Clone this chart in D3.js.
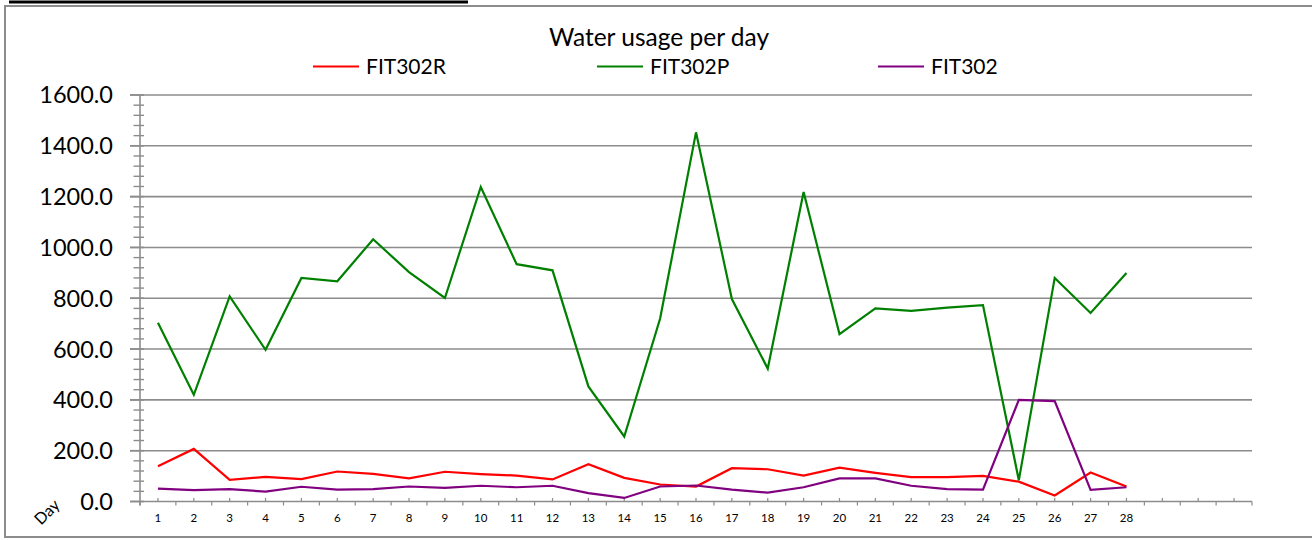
<!DOCTYPE html>
<html>
<head>
<meta charset="utf-8">
<script src="https://cdn.jsdelivr.net/npm/d3@7/dist/d3.min.js"></script>
<style>
  html, body { margin: 0; padding: 0; background: #ffffff; }
  svg { display: block; font-family: Lato, "Open Sans", sans-serif; }
</style>
</head>
<body>
<svg id="chart" width="1312" height="540"></svg>
<script>
// ---- data ----
const categories = ["1","2","3","4","5","6","7","8","9","10","11","12","13","14","15","16","17","18","19","20","21","22","23","24","25","26","27","28","29","30","31"];
const labelCount = 28;
const FIT302R = [139,207,85,97,88,118,109,91,117,108,102,87,147,93,67,59,131,127,102,133,113,96,96,101,78,24,114,59];
const FIT302P = [704,420,807,597,880,867,1032,903,801,1238,934,910,453,256,720,1453,797,523,1218,659,760,750,763,773,84,880,742,899];
const FIT302  = [51,45,49,39,58,47,49,59,54,62,56,62,33,14,59,63,47,35,56,91,91,62,49,47,400,395,46,56];
const seriesNames = ["FIT302R","FIT302P","FIT302"];
const seriesColors = ["#ff0000","#008000","#800080"];
const yTicks = [0,200,400,600,800,1000,1200,1400,1600];
const titleText = "Water usage per day";
const xAxisTitle = "Day";

const series = [FIT302R, FIT302P, FIT302];

const svg = d3.select("#chart");
const gridColor = "#8c8c8c";

// outer frame
svg.append("line").attr("x1",9).attr("x2",468).attr("y1",2).attr("y2",2)
  .attr("stroke","#000").attr("stroke-width",3);
svg.append("rect").attr("x",5).attr("y",6).attr("width",1320).attr("height",531)
  .attr("fill","none").attr("stroke",gridColor).attr("stroke-width",2);

const x = d3.scaleBand().domain(categories).range([140, 1252]).paddingInner(0).paddingOuter(0);
const y = d3.scaleLinear().domain([0,1600]).range([501.5, 95]);
const cx = i => x(categories[i]) + x.bandwidth()/2;

// gridlines
svg.append("g").selectAll("line").data(yTicks).join("line")
  .attr("x1",130).attr("x2",1252)
  .attr("y1",d=>y(d)).attr("y2",d=>y(d))
  .attr("stroke",gridColor).attr("stroke-width",1.6);

// minor ticks on y axis
svg.append("g").selectAll("line").data(d3.range(0,1601,40).filter(v=>v%200!==0)).join("line")
  .attr("x1",133.5).attr("x2",144)
  .attr("y1",d=>y(d)).attr("y2",d=>y(d))
  .attr("stroke",gridColor).attr("stroke-width",1.4);
// major ticks extend to right of axis
svg.append("g").selectAll("line").data(yTicks).join("line")
  .attr("x1",130).attr("x2",144)
  .attr("y1",d=>y(d)).attr("y2",d=>y(d))
  .attr("stroke",gridColor).attr("stroke-width",1.6);

// y axis line
svg.append("line").attr("x1",140).attr("x2",140).attr("y1",y(1600)).attr("y2",y(0)+4)
  .attr("stroke",gridColor).attr("stroke-width",1.6);

// y labels
svg.append("g").selectAll("text").data(yTicks).join("text")
  .attr("x",113).attr("y",d=>y(d)).attr("dy","0.36em")
  .attr("text-anchor","end").attr("font-size",23.5).attr("fill","#000")
  .text(d=>d3.format(".1f")(d));

// x axis ticks
const bounds = categories.map((c)=>x(c)).concat([x(categories[categories.length-1])+x.bandwidth()]);
svg.append("g").selectAll("line").data(bounds).join("line")
  .attr("x1",d=>d).attr("x2",d=>d).attr("y1",y(0)).attr("y2",y(0)+4)
  .attr("stroke",gridColor).attr("stroke-width",1.2);
svg.append("g").selectAll("line").data(categories).join("line")
  .attr("x1",(d,i)=>cx(i)).attr("x2",(d,i)=>cx(i)).attr("y1",y(0)-3.5).attr("y2",y(0))
  .attr("stroke",gridColor).attr("stroke-width",1.2);

// x labels
svg.append("g").selectAll("text").data(categories).join("text")
  .attr("x",(d,i)=>cx(i)).attr("y",521.5)
  .attr("text-anchor","middle").attr("font-size",11.5).attr("fill","#000")
  .text((d,i)=> i < labelCount ? d : "");

// x axis title rotated
svg.append("text").attr("transform","translate(47,512) rotate(-45)")
  .attr("text-anchor","middle").attr("dy","0.35em").attr("font-size",16).attr("fill","#000")
  .text(xAxisTitle);

// lines
const line = d3.line().x((d,i)=>cx(i)).y(d=>y(d));
series.forEach((s,k)=>{
  svg.append("path").datum(s).attr("d",line)
    .attr("fill","none").attr("stroke",seriesColors[k]).attr("stroke-width",2.2)
    .attr("stroke-linejoin","miter");
});

// title
svg.append("text").attr("x",659).attr("y",46).attr("text-anchor","middle")
  .attr("font-size",24.5).attr("fill","#000").text(titleText);

// legend
const legendX = [313, 597, 878];
seriesNames.forEach((n,k)=>{
  svg.append("line").attr("x1",legendX[k]).attr("x2",legendX[k]+46)
    .attr("y1",66.5).attr("y2",66.5).attr("stroke",seriesColors[k]).attr("stroke-width",2.2);
  svg.append("text").attr("x",legendX[k]+53).attr("y",73.5).attr("font-size",21).attr("fill","#000").text(n);
});
</script>
</body>
</html>
